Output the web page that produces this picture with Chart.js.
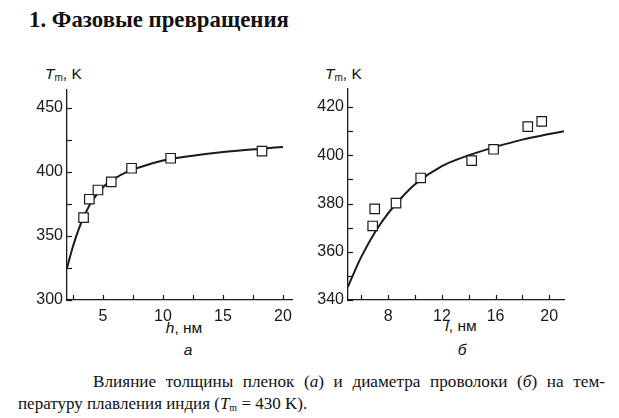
<!DOCTYPE html>
<html>
<head>
<meta charset="utf-8">
<script src="https://cdn.jsdelivr.net/npm/chart.js@4.4.0/dist/chart.umd.min.js"></script>
<style>
  html, body { margin: 0; padding: 0; background: #fff; }
  body { width: 619px; height: 418px; position: relative; overflow: hidden; }
  canvas { position: absolute; }
  .txt { position: absolute; white-space: nowrap; color: #111; }
  .sans { font-family: "Liberation Sans", Arial, sans-serif; font-size: 15.5px; line-height: 18px; }
  .serif { font-family: "Liberation Serif", "Times New Roman", serif; }
  sub { font-size: 10px; vertical-align: -2px; line-height: 0; }
</style>
</head>
<body>
<div class="txt serif" style="left:29px; top:7px; font-size:22.8px; font-weight:bold; line-height:26px;">1. Фазовые превращения</div>

<div class="txt sans" style="left:45px; top:65px;"><i>T</i><sub>m</sub>, K</div>
<div class="txt sans" style="left:325px; top:65px;"><i>T</i><sub>m</sub>, K</div>

<div class="txt sans" style="left:164px; top:319px; width:40px; text-align:center;"><i>h</i>, нм</div>
<div class="txt sans" style="left:178px; top:341px; width:20px; text-align:center;"><i>а</i></div>
<div class="txt sans" style="left:441px; top:317px; width:40px; text-align:center;"><i>l</i>, нм</div>
<div class="txt sans" style="left:452px; top:341px; width:20px; text-align:center;"><i>б</i></div>

<div class="txt serif" style="left:93px; top:372px; width:512px; font-size:17.2px; line-height:20px; text-align:justify; text-align-last:justify; white-space:normal;">Влияние толщины пленок (<i>а</i>) и диаметра проволоки (<i>б</i>) на тем-</div>
<div class="txt serif" style="left:18px; top:394px; font-size:17px; line-height:20px;">пературу плавления индия (<i>T</i><sub>m</sub> = 430 K).</div>

<canvas id="chartA" width="310" height="320" style="left:0; top:50px; width:310px; height:320px;"></canvas>
<canvas id="chartB" width="319" height="320" style="left:300px; top:50px; width:319px; height:320px;"></canvas>

<script>
// (a) film thickness h, nm -> melting temperature, K
const hPoints = [3.38, 3.86, 4.58, 5.69, 7.38, 10.64, 18.25];
const tmFilm = [364.3, 378.7, 385.9, 392.2, 402.9, 410.7, 416.2];
const hCurve = [2, 2.5, 3, 3.5, 4, 5, 6, 7, 8, 10, 12, 15, 18, 20];
const tmFilmCurve = [325, 342, 356, 367, 376, 388, 395, 400, 403.5, 409, 412, 415.5, 418, 419.5];
const hTickLabels = [5, 10, 15, 20];
const tmFilmTickLabels = [300, 350, 400, 450];

// (б) wire diameter l, nm -> melting temperature, K
const lPoints = [6.84, 6.99, 8.58, 10.42, 14.22, 15.85, 18.4, 19.44];
const tmWire = [370.7, 377.8, 380.2, 390.6, 397.8, 402.5, 411.9, 414.1];
const lCurve = [5, 5.5, 6, 7, 8, 9, 10, 12, 14, 16, 18, 20, 21.1];
const tmWireCurve = [345.5, 352, 358, 368, 376, 382.5, 388, 395.5, 400, 403.5, 406.5, 408.8, 410];
const lTickLabels = [8, 12, 16, 20];
const tmWireTickLabels = [340, 360, 380, 400, 420];

const ink = '#1a1a1a';
const tickFont = { family: 'Liberation Sans', size: 16 };

// ticks drawn inward from the axis lines
const innerTicks = {
  id: 'innerTicks',
  afterDatasetsDraw(chart) {
    const ctx = chart.ctx;
    const area = chart.chartArea;
    ctx.save();
    ctx.strokeStyle = ink;
    ctx.lineWidth = 1.2;
    const xs = chart.scales.x, ys = chart.scales.y;
    xs.ticks.forEach(t => {
      const px = Math.round(xs.getPixelForValue(t.value)) + 0.5;
      ctx.beginPath();
      ctx.moveTo(px, area.bottom);
      ctx.lineTo(px, area.bottom - 5);
      ctx.stroke();
    });
    ys.ticks.forEach(t => {
      const py = Math.round(ys.getPixelForValue(t.value)) + 0.5;
      ctx.beginPath();
      ctx.moveTo(area.left, py);
      ctx.lineTo(area.left + 5, py);
      ctx.stroke();
    });
    ctx.restore();
  }
};

const toXY = (xs, ys) => xs.map((x, i) => ({ x: x, y: ys[i] }));

const makeChart = (id, cfg) => new Chart(document.getElementById(id), {
  type: 'scatter',
  data: {
    datasets: [{
      data: toXY(cfg.px, cfg.py),
      pointStyle: 'rect',
      pointRadius: 6.7,
      pointHoverRadius: 6.7,
      backgroundColor: '#fff',
      borderColor: ink,
      borderWidth: 1.2,
      order: 0
    }, {
      data: toXY(cfg.cx, cfg.cy),
      showLine: true,
      pointRadius: 0,
      borderColor: ink,
      borderWidth: 2,
      cubicInterpolationMode: 'monotone',
      order: 1
    }]
  },
  options: {
    responsive: false,
    animation: false,
    events: [],
    layout: { padding: cfg.pad },
    plugins: { legend: { display: false }, tooltip: { enabled: false } },
    scales: {
      x: {
        type: 'linear',
        min: cfg.xMin, max: cfg.xMax,
        grid: { display: false, drawTicks: false },
        border: { color: ink, width: 1.3 },
        afterFit: s => { s.height = 30; },
        ticks: {
          stepSize: cfg.xStep, includeBounds: false, autoSkip: false, maxRotation: 0,
          padding: 7, color: ink, font: tickFont,
          callback: v => cfg.xLabels.includes(v) ? String(v) : ''
        }
      },
      y: {
        type: 'linear',
        min: cfg.yMin, max: cfg.yMax,
        grid: { display: false, drawTicks: false },
        border: { color: ink, width: 1.3 },
        afterFit: s => { s.width = cfg.yWidth; },
        ticks: {
          stepSize: cfg.yStep, includeBounds: false, autoSkip: false,
          padding: 4, color: ink, font: tickFont,
          callback: v => cfg.yLabels.includes(v) ? String(v) : ''
        }
      }
    }
  },
  plugins: [innerTicks]
});

makeChart('chartA', {
  px: hPoints, py: tmFilm, cx: hCurve, cy: tmFilmCurve,
  xMin: 2, xMax: 20.75, xStep: 2.5, xLabels: hTickLabels,
  yMin: 300, yMax: 464, yStep: 25, yLabels: tmFilmTickLabels,
  yWidth: 67, pad: { left: 0, top: 40, right: 18, bottom: 40 }
});

makeChart('chartB', {
  px: lPoints, py: tmWire, cx: lCurve, cy: tmWireCurve,
  xMin: 5, xMax: 21.1, xStep: 2, xLabels: lTickLabels,
  yMin: 340, yMax: 427.5, yStep: 10, yLabels: tmWireTickLabels,
  yWidth: 48, pad: { left: 0, top: 39, right: 55, bottom: 40 }
});
</script>
</body>
</html>
